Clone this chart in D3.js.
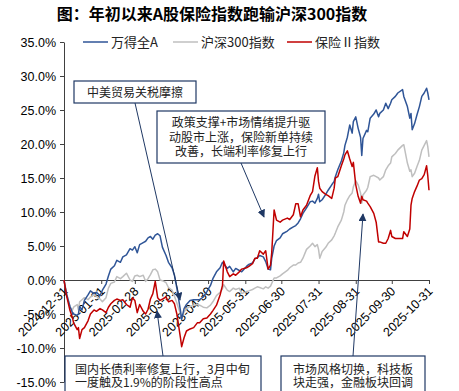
<!DOCTYPE html>
<html>
<head>
<meta charset="utf-8">
<script src="https://cdn.jsdelivr.net/npm/d3@7"></script>
<style>
  html, body { margin: 0; padding: 0; background: #fff; }
  svg { display: block; }
</style>
</head>
<body>
<div id="chart"></div>
<script>
// dates and cumulative returns (%) since 2024-12-31
const dates = [
  "2024-12-31","2025-01-02","2025-01-05","2025-01-07","2025-01-08","2025-01-11","2025-01-12","2025-01-13","2025-01-15","2025-01-17",
  "2025-01-20","2025-01-22","2025-01-25","2025-01-27","2025-01-30","2025-02-01","2025-02-04","2025-02-06","2025-02-08","2025-02-11",
  "2025-02-13","2025-02-16","2025-02-18","2025-02-21","2025-02-24","2025-02-26","2025-02-28","2025-03-02","2025-03-04","2025-03-07",
  "2025-03-09","2025-03-11","2025-03-13","2025-03-15","2025-03-17","2025-03-19","2025-03-21","2025-03-23","2025-03-26","2025-03-28",
  "2025-03-31","2025-04-02","2025-04-04","2025-04-07","2025-04-08","2025-04-10","2025-04-12","2025-04-15","2025-04-18","2025-04-21",
  "2025-04-23","2025-04-26","2025-04-29","2025-05-02","2025-05-04","2025-05-07","2025-05-10","2025-05-12","2025-05-13","2025-05-16",
  "2025-05-18","2025-05-21","2025-05-23","2025-05-26","2025-05-28","2025-06-01","2025-06-03","2025-06-06","2025-06-08","2025-06-10",
  "2025-06-12","2025-06-15","2025-06-17","2025-06-19","2025-06-21","2025-06-22","2025-06-24","2025-06-26","2025-06-29","2025-07-01",
  "2025-07-05","2025-07-07","2025-07-10","2025-07-12","2025-07-14","2025-07-16","2025-07-18","2025-07-21","2025-07-24","2025-07-26",
  "2025-07-28","2025-07-30","2025-07-31","2025-08-01","2025-08-03","2025-08-06","2025-08-08","2025-08-11","2025-08-13","2025-08-14",
  "2025-08-16","2025-08-19","2025-08-21","2025-08-22","2025-08-24","2025-08-26","2025-08-28","2025-08-29","2025-08-31","2025-09-02",
  "2025-09-04","2025-09-05","2025-09-06","2025-09-09","2025-09-10","2025-09-12","2025-09-15","2025-09-17","2025-09-19","2025-09-20",
  "2025-09-23","2025-09-25","2025-09-27","2025-09-29","2025-09-30","2025-10-03","2025-10-05","2025-10-09","2025-10-10","2025-10-13",
  "2025-10-15","2025-10-16","2025-10-17","2025-10-19","2025-10-21","2025-10-23","2025-10-25","2025-10-27","2025-10-29","2025-10-30",
  "2025-10-31"
];

const windA = [
  0, -2.0, -3.9, -4.8, -5.0, -5.2, -5.0, -3.9, -4.4, -3.0,
  -2.2, -1.6, -2.0, -1.8, -2.3, -1.5, -0.6, 0.6, 1.6, 2.1,
  2.9, 2.6, 3.4, 3.7, 4.6, 4.4, 4.9, 4.0, 5.2, 5.5,
  5.7, 6.2, 6.4, 6.0, 6.6, 6.8, 6.5, 4.8, 3.6, 2.6,
  1.8, 0.7, -1.2, -4.5, -5.8, -4.2, -3.6, -3.0, -2.9, -2.9,
  -2.9, -2.5, -1.7, -0.8, 0.2, 1.2, 1.8, 2.6, 2.4, 1.7,
  2.0, 1.2, 1.7, 1.4, 1.2, 2.0, 2.3, 2.5, 3.1, 3.3,
  3.6, 3.4, 2.7, 1.6, 1.5, 3.2, 5.0, 5.8, 6.2, 6.8,
  7.2, 7.5, 7.8, 8.0, 8.4, 9.0, 9.8, 10.6, 11.5, 11.6,
  11.3, 12.0, 12.6, 11.5, 11.8, 12.6, 13.2, 14.0, 14.5, 15.2,
  16.2, 17.5, 18.7, 19.8, 21.0, 22.8, 21.6, 23.3, 24.0, 22.3,
  21.0, 18.3, 20.8, 22.0, 21.8, 23.8, 24.4, 25.0, 24.0, 24.5,
  25.0, 26.0, 25.2, 26.0, 26.5, 27.0, 27.5, 28.0, 27.0, 25.5,
  23.8, 24.5, 22.1, 23.0, 24.3, 25.5, 27.0, 27.5, 28.2, 27.5,
  26.5
];

const hs300 = [
  0, -1.8, -4.0, -4.4, -4.0, -3.6, -4.4, -3.2, -2.9, -2.6,
  -2.9, -2.5, -2.2, -2.4, -2.8, -3.2, -2.6, -1.2, -0.5, -0.3,
  0.5, 0.2, 0.5, 1.0, 0.0, -0.2, 0.6, 0.7, 0.5, 0.7,
  -0.2, 0.2, 0.8, 1.5, 1.6, 1.2, 0.0, -0.1, -0.4, -1.1,
  -1.5, -2.4, -3.4, -5.0, -5.6, -4.7, -4.2, -3.9, -3.7, -3.6,
  -3.7, -4.0, -4.1, -3.7, -3.2, -2.3, -1.8, -1.3, -0.7, -1.5,
  -1.7, -1.2, -1.4, -1.2, -2.0, -1.7, -1.6, -1.4, -1.2, -1.0,
  -1.1, -1.3, -1.0, -1.2, -0.9, -0.5, 0.3, 0.3, 0.6, 0.9,
  1.4, 1.8, 2.2, 2.2, 2.5, 2.6, 3.2, 4.5, 5.0, 5.4,
  4.9, 5.2, 4.5, 3.2, 4.2, 4.8, 5.4, 5.9, 6.5, 6.9,
  7.8, 8.8, 10.0, 11.0, 11.8, 12.4, 12.8, 13.7, 14.6, 14.0,
  12.8, 11.3, 12.5, 13.2, 13.6, 15.2, 15.4, 15.2, 15.0, 14.7,
  15.2, 16.2, 16.8, 17.2, 18.1, 18.6, 19.1, 19.8, 19.9, 17.2,
  16.0, 16.2, 15.2, 15.7, 16.7, 17.6, 19.1, 19.8, 20.5, 19.6,
  18.1
];

const insurance = [
  0, -2.2, -4.5, -5.5, -6.3, -7.3, -7.0, -8.6, -7.3, -7.0,
  -6.0, -5.0, -4.4, -4.6, -4.2, -4.4, -4.8, -4.0, -3.5, -3.0,
  -2.8, -3.0, -2.9, -3.6, -4.0, -2.6, -3.0, -4.8, -3.6, -4.6,
  -5.0, -4.3, -2.8, -2.0, -0.2, -2.6, -3.0, -2.8, -2.5, -3.2,
  -3.0, -3.5, -5.0, -8.5, -9.8, -8.5, -7.5, -7.2, -7.0, -6.3,
  -6.3, -5.7, -5.6, -5.0, -4.5, -3.7, -2.2, -0.8, 2.8, 1.2,
  0.5, 0.9, 0.7, 1.2, 1.6, 1.8, 2.0, 2.4, 3.2, 3.2,
  4.3, 3.8, 4.3, 1.6, 2.2, 4.0, 10.3, 8.8, 8.5, 8.8,
  9.1, 8.9, 9.6, 11.2, 11.2, 9.3, 10.3, 11.0, 12.4, 13.0,
  15.3, 16.5, 14.5, 13.5, 13.0, 12.6, 12.4, 12.0, 13.5, 15.0,
  15.2, 16.8, 17.8, 18.4, 19.0, 17.8, 16.7, 17.3, 14.0, 12.3,
  11.3, 12.3, 11.8, 11.6, 11.3, 10.8, 9.8, 8.5, 5.6, 5.6,
  5.4, 5.4, 6.1, 7.3, 6.4, 6.1, 6.1, 6.1, 7.1, 6.4,
  7.5, 11.0, 12.0, 13.0, 13.8, 14.7, 14.9, 15.5, 16.8, 15.3,
  13.2
];

const seriesNames = ["万得全A", "沪深300指数", "保险Ⅱ指数"];
const seriesColors = ["#2F5597", "#BFBFBF", "#C00000"];
const monthTicks = ["2024-12-31","2025-01-31","2025-02-28","2025-03-31","2025-04-30","2025-05-31",
                    "2025-06-30","2025-07-31","2025-08-31","2025-09-30","2025-10-31"];
const yTicks = [-15, -10, -5, 0, 5, 10, 15, 20, 25, 30, 35];

const W = 459, H = 391;
const parse = d3.timeParse("%Y-%m-%d");
const latin = "'Liberation Sans', Arial, sans-serif";
const cjk = "'Noto Sans CJK SC', 'Liberation Sans', sans-serif";
const navy = "#1F3864";

const svg = d3.select("#chart").append("svg")
  .attr("width", W).attr("height", H);

const x = d3.scaleTime()
  .domain([parse("2024-12-31"), parse("2025-10-31")])
  .range([64, 429]);
const y = d3.scaleLinear().domain([-15, 35]).range([382, 42]);

// title
svg.append("text")
  .attr("x", 212).attr("y", 20)
  .attr("text-anchor", "middle")
  .style("font-family", cjk).style("font-size", "16px").style("font-weight", "bold")
  .text("图：年初以来A股保险指数跑输沪深300指数");

// y axis
const yAxis = svg.append("g")
  .attr("transform", "translate(64,0)")
  .call(d3.axisLeft(y).tickValues(yTicks).tickSize(4).tickSizeOuter(0)
    .tickFormat(d => d.toFixed(1) + "%"));
yAxis.select(".domain").attr("stroke", "#404040");
yAxis.selectAll(".tick line").attr("stroke", "#404040");
yAxis.selectAll("text")
  .attr("x", -8)
  .style("font-family", latin).style("font-size", "12.5px").attr("fill", "#000");

// x axis on zero line
const xAxis = svg.append("g")
  .attr("transform", `translate(0,${y(0)})`)
  .call(d3.axisBottom(x).tickValues(monthTicks.map(parse)).tickSize(4).tickSizeOuter(0)
    .tickFormat(d3.timeFormat("%Y-%m-%d")));
xAxis.select(".domain").attr("stroke", "#404040");
xAxis.selectAll(".tick line").attr("stroke", "#404040");
xAxis.selectAll("text")
  .attr("y", 0).attr("dy", 0)
  .attr("text-anchor", "end")
  .attr("transform", "translate(4,12) rotate(-45)")
  .style("font-family", latin).style("font-size", "12.5px").attr("fill", "#000");

// lines
const allSeries = [windA, hs300, insurance];
const line = d3.line()
  .x((d, i) => x(parse(dates[i])))
  .y(d => y(d));

// draw gray first, then blue, then red on top
[1, 0, 2].forEach(k => {
  svg.append("path")
    .datum(allSeries[k])
    .attr("fill", "none")
    .attr("stroke", seriesColors[k])
    .attr("stroke-width", 1.5)
    .attr("stroke-linejoin", "round")
    .attr("d", line);
});

// legend
const legendX = [83, 173, 287];
seriesNames.forEach((name, k) => {
  svg.append("line")
    .attr("x1", legendX[k]).attr("x2", legendX[k] + 25)
    .attr("y1", 42).attr("y2", 42)
    .attr("stroke", seriesColors[k]).attr("stroke-width", 1.5);
  svg.append("text")
    .attr("x", legendX[k] + 28).attr("y", 46.5)
    .style("font-family", cjk).style("font-size", "13px").attr("fill", "#222")
    .text(name);
});

// arrow marker
svg.append("defs").append("marker")
  .attr("id", "arrow")
  .attr("viewBox", "0 0 10 10")
  .attr("refX", 9).attr("refY", 5)
  .attr("markerUnits", "userSpaceOnUse")
  .attr("markerWidth", 8).attr("markerHeight", 8)
  .attr("orient", "auto")
  .append("path")
  .attr("d", "M0,0 L10,5 L0,10 Z")
  .attr("fill", navy);

const arrows = [
  [135, 103, 180, 300],
  [241, 163, 264, 217],
  [163, 356, 157, 311],
  [353, 356, 363, 214]
];
arrows.forEach(a => {
  svg.append("line")
    .attr("x1", a[0]).attr("y1", a[1]).attr("x2", a[2]).attr("y2", a[3])
    .attr("stroke", navy).attr("stroke-width", 1)
    .attr("marker-end", "url(#arrow)");
});

// annotation boxes
const boxes = [
  { x: 74, y: 81, w: 122, h: 22, anchor: "middle", lines: ["中美贸易关税摩擦"], y0: 97, lh: 14 },
  { x: 157, y: 111, w: 168, h: 52, anchor: "middle",
    lines: ["政策支撑+市场情绪提升驱", "动股市上涨，保险新单持续", "改善，长端利率修复上行"], y0: 127, lh: 14.5 },
  { x: 65, y: 356, w: 196, h: 40, anchor: "start",
    lines: ["国内长债利率修复上行，3月中旬", "一度触及1.9%的阶段性高点"], y0: 374, lh: 13 },
  { x: 281, y: 356, w: 144, h: 40, anchor: "middle",
    lines: ["市场风格切换，科技板", "块走强，金融板块回调"], y0: 374, lh: 13 }
];
boxes.forEach(b => {
  svg.append("rect")
    .attr("x", b.x).attr("y", b.y).attr("width", b.w).attr("height", b.h)
    .attr("fill", "#fff").attr("stroke", navy).attr("stroke-width", 1.2);
  const tx = b.anchor === "middle" ? b.x + b.w / 2 : b.x + 10;
  b.lines.forEach((t, i) => {
    svg.append("text")
      .attr("x", tx).attr("y", b.y0 + i * b.lh)
      .attr("text-anchor", b.anchor)
      .style("font-family", cjk).style("font-size", "12px").attr("fill", "#222")
      .text(t);
  });
});
</script>
</body>
</html>
